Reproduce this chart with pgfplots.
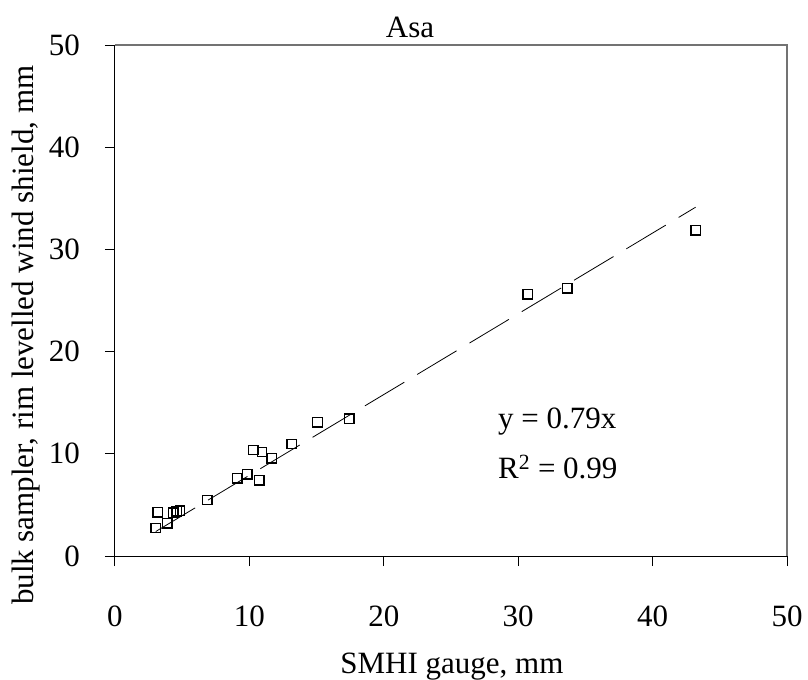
\documentclass[border=0pt]{standalone}
\usepackage{pgfplots}
\pgfplotsset{compat=1.18}
\usepackage{fontspec}
\setmainfont{Liberation Serif}
\newcommand\bigf{\fontsize{31bp}{37bp}\selectfont}
\begin{document}
\begin{tikzpicture}
\path[use as bounding box] (-115bp,-124bp) rectangle (693bp,556bp);
\begin{axis}[
  at={(0,0)}, anchor=south west,
  scale only axis, width=672bp, height=511bp,
  xmin=0, xmax=50, ymin=0, ymax=50,
  axis lines=left, axis line style={-, black, line width=1bp},
  xtick={0,10,20,30,40,50}, ytick={0,10,20,30,40,50},
  tick align=outside, major tick length=10bp,
  tick style={black, line width=1bp},
  /pgf/number format/assume math mode=true,
  tick label style={font=\bigf},
  xticklabel style={anchor=base, inner sep=0pt, yshift=-60bp},
  yticklabel style={anchor=east, inner sep=0pt, xshift=-25bp},
  clip=false,
]
\draw[gray!90!black, line width=1.3bp] (rel axis cs:0,1) -- (rel axis cs:1,1) -- (rel axis cs:1,0);
\addplot[black, line width=0.8bp, dash pattern=on 46bp off 15bp, no marks]
  coordinates {(3.03,2.394) (43.2,34.128)};
\addplot[only marks, mark=square, mark size=4.7bp, mark options={black, line width=1.3bp, fill=none}]
  coordinates {
  (3.03,2.74) (3.17,4.27) (3.89,3.20) (4.34,4.24) (4.59,4.37) (4.84,4.44)
  (6.87,5.48) (9.10,7.60) (9.85,7.99) (10.74,7.40) (10.29,10.37) (10.94,10.18)
  (11.66,9.56) (13.15,10.96) (15.07,13.09) (17.43,13.44)
  (30.70,25.60) (33.65,26.20) (43.20,31.87)
  };
\node[anchor=base, font=\bigf] at (axis cs:21.95,50.78) {Asa};
\node[anchor=base west, inner sep=0pt, font=\bigf] at (axis cs:28.5,12.52) {y = 0.79x};
\node[anchor=base west, inner sep=0pt, font=\bigf] at (axis cs:28.5,7.63) {R\textsuperscript{2} = 0.99};
\node[anchor=base, font=\bigf] at (axis cs:25.07,-11.5) {SMHI gauge, mm};
\node[anchor=base, rotate=90, font=\bigf] at (axis cs:-6.10,21.6) {bulk sampler, rim levelled wind shield, mm};
\end{axis}
\end{tikzpicture}
\end{document}
